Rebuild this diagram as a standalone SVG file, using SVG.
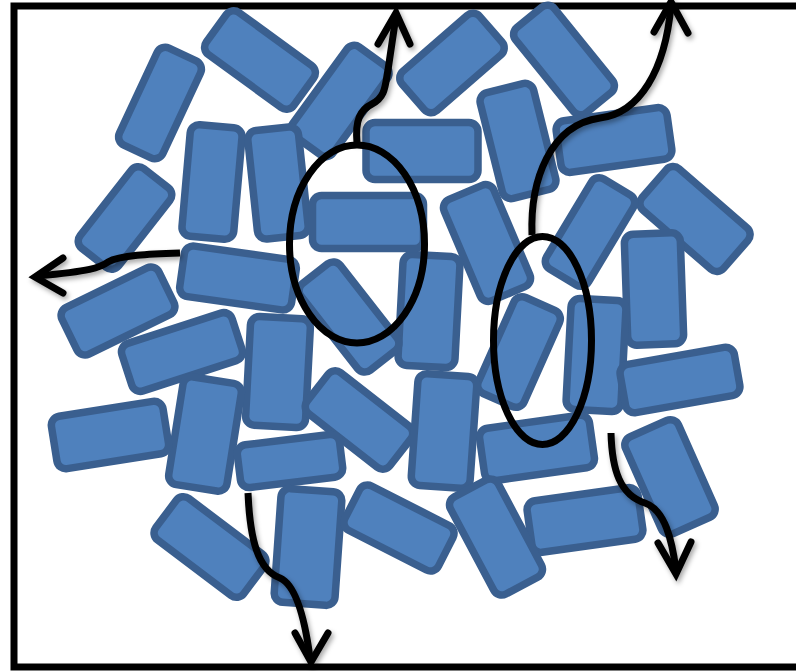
<svg xmlns="http://www.w3.org/2000/svg" width="796" height="671" viewBox="0 0 796 671">
<defs>
<style>
.b{fill:#4f81bd;stroke:#3a5f8f;stroke-width:7.5}
.e{fill:none;stroke:#000;stroke-width:7}
.a{fill:none;stroke:#000;stroke-width:7;stroke-linecap:round;stroke-linejoin:miter}
</style>
<filter id="sh" x="-20%" y="-20%" width="140%" height="140%">
<feDropShadow dx="2" dy="3" stdDeviation="2.5" flood-color="#000" flood-opacity="0.35"/>
</filter>
</defs>
<rect x="0" y="0" width="796" height="671" fill="#fff"/>
<rect x="14" y="6" width="800" height="661" fill="none" stroke="#000" stroke-width="7"/>
<g id="blocks">
<g id="r1" transform="translate(160,103) rotate(25)"><rect class="b" x="-24" y="-53.5" width="48" height="107" rx="9"/></g>
<g id="r2" transform="translate(260,60) rotate(36)"><rect class="b" x="-54" y="-26" width="108" height="52" rx="9"/></g>
<g id="r16" transform="translate(125,218) rotate(38)"><rect class="b" x="-24.5" y="-50.5" width="49" height="101" rx="9"/></g>
<g id="r14" transform="translate(212,182) rotate(5)"><rect class="b" x="-26" y="-56" width="52" height="112" rx="9"/></g>
<g id="r3" transform="translate(340,101) rotate(36)"><rect class="b" x="-25" y="-55" width="50" height="110" rx="9"/></g>
<g id="r15" transform="translate(278,183) rotate(-6)"><rect class="b" x="-25.5" y="-54.5" width="51" height="109" rx="9"/></g>
<g id="r5" transform="translate(452,63) rotate(-41)"><rect class="b" x="-51.5" y="-26" width="103" height="52" rx="9"/></g>
<g id="r6" transform="translate(564,60) rotate(-39)"><rect class="b" x="-25" y="-55" width="50" height="110" rx="9"/></g>
<g id="r4" transform="translate(422,151)"><rect class="b" x="-56" y="-28.5" width="112" height="57" rx="9"/></g>
<g id="r7" transform="translate(518,141) rotate(-14)"><rect class="b" x="-27.5" y="-54.5" width="55" height="109" rx="9"/></g>
<g id="r8" transform="translate(614,140) rotate(-8)"><rect class="b" x="-56" y="-26" width="112" height="52" rx="9"/></g>
<g id="r9" transform="translate(695,219) rotate(41)"><rect class="b" x="-54" y="-27.5" width="108" height="55" rx="9"/></g>
<g id="r10" transform="translate(590,232) rotate(31)"><rect class="b" x="-24.5" y="-52.5" width="49" height="105" rx="9"/></g>
<g id="r12" transform="translate(487,243) rotate(-23)"><rect class="b" x="-27" y="-55" width="54" height="110" rx="9"/></g>
<g id="r11" transform="translate(654,289) rotate(-2)"><rect class="b" x="-28" y="-55.5" width="56" height="111" rx="9"/></g>
<g id="r17" transform="translate(238,278) rotate(8)"><rect class="b" x="-56.5" y="-25.5" width="113" height="51" rx="9"/></g>
<g id="r18" transform="translate(118,311) rotate(-26)"><rect class="b" x="-54" y="-26" width="108" height="52" rx="9"/></g>
<g id="r19" transform="translate(182,352) rotate(-18)"><rect class="b" x="-58" y="-25" width="116" height="50" rx="9"/></g>
<g id="r22" transform="translate(429,311) rotate(3)"><rect class="b" x="-28.5" y="-55.5" width="57" height="111" rx="9"/></g>
<g id="r21" transform="translate(349,317) rotate(-38)"><rect class="b" x="-25" y="-55" width="50" height="110" rx="9"/></g>
<g id="r13" transform="translate(368,222)"><rect class="b" x="-55.5" y="-26.5" width="111" height="53" rx="9"/></g>
<g id="r20" transform="translate(278,372) rotate(3)"><rect class="b" x="-30" y="-54.5" width="60" height="109" rx="9"/></g>
<g id="r23" transform="translate(519,352) rotate(24)"><rect class="b" x="-25" y="-52.5" width="50" height="105" rx="9"/></g>
<g id="r24" transform="translate(596,355) rotate(3)"><rect class="b" x="-27.5" y="-55.5" width="55" height="111" rx="9"/></g>
<g id="r25" transform="translate(680,380) rotate(-10)"><rect class="b" x="-58" y="-24.5" width="116" height="49" rx="9"/></g>
<g id="r26" transform="translate(670,477) rotate(-24)"><rect class="b" x="-29" y="-53" width="58" height="106" rx="9"/></g>
<g id="r27" transform="translate(537,448) rotate(-8)"><rect class="b" x="-55.5" y="-26.5" width="111" height="53" rx="9"/></g>
<g id="r28" transform="translate(585,520) rotate(-8)"><rect class="b" x="-56" y="-26" width="112" height="52" rx="9"/></g>
<g id="r31" transform="translate(359,420) rotate(38)"><rect class="b" x="-52.5" y="-26" width="105" height="52" rx="9"/></g>
<g id="r30" transform="translate(444,431) rotate(4)"><rect class="b" x="-29.5" y="-56" width="59" height="112" rx="9"/></g>
<g id="r32" transform="translate(205,434) rotate(9)"><rect class="b" x="-29.5" y="-54.5" width="59" height="109" rx="9"/></g>
<g id="r33" transform="translate(110,435) rotate(-9)"><rect class="b" x="-56.5" y="-26.5" width="113" height="53" rx="9"/></g>
<g id="r34" transform="translate(290,461) rotate(-7)"><rect class="b" x="-51.5" y="-21.5" width="103" height="43" rx="9"/></g>
<g id="r35" transform="translate(210,547) rotate(37)"><rect class="b" x="-55" y="-26" width="110" height="52" rx="9"/></g>
<g id="r36" transform="translate(308,547) rotate(4)"><rect class="b" x="-30.5" y="-57" width="61" height="114" rx="9"/></g>
<g id="r37" transform="translate(399,528) rotate(27)"><rect class="b" x="-52.5" y="-25" width="105" height="50" rx="9"/></g>
<g id="r29" transform="translate(496,537) rotate(-28)"><rect class="b" x="-27" y="-55" width="54" height="110" rx="9"/></g>
</g>
<g id="ellipses">
<g id="ell1"><ellipse class="e" cx="357" cy="244" rx="67.5" ry="99"/></g>
<g id="ell2"><ellipse class="e" cx="542.5" cy="340.5" rx="49" ry="104"/></g>
</g>
<g id="connectors" filter="url(#sh)">
<path class="a" d="M357,143 C355,120 360,110 372,104 C386,97 385,85 388,70 C391,50 394,30 396,16" style="stroke-linecap:butt"/>
<polyline class="a" points="378,44 396,13 410,44"/>
<path class="a" d="M532,235 C530,180 550,125 600,118 C640,113 665,70 671,6" style="stroke-linecap:butt"/>
<polyline class="a" points="654,32 671,2 688,33"/>
<path class="a" d="M180,253 C150,254 120,255 108,262 C100,268 90,271 38,276" style="stroke-linecap:butt"/>
<polyline class="a" points="63,258 35,277 63,293"/>
<path class="a" d="M248,493 C250,540 258,570 280,578 C296,585 305,620 310,658" style="stroke-linecap:butt"/>
<polyline class="a" points="295,633 311,662 328,633"/>
<path class="a" d="M611,433 C612,470 620,495 645,503 C665,510 672,540 676,570" style="stroke-linecap:butt"/>
<polyline class="a" points="658,543 676,574 691,542"/>
</g>
</svg>
